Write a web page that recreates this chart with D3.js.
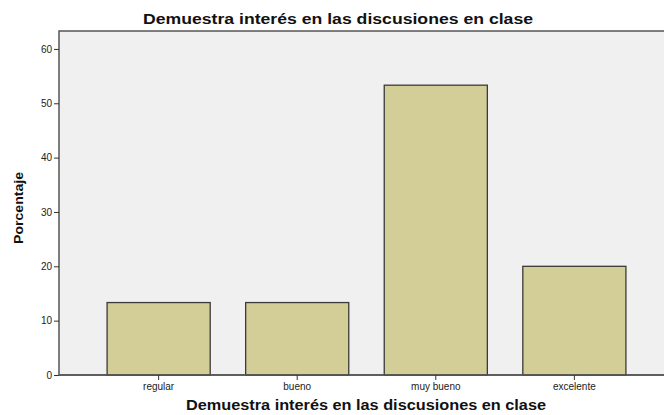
<!DOCTYPE html>
<html><head><meta charset="utf-8">
<script src="https://cdn.jsdelivr.net/npm/d3@7"></script>
<style>body{margin:0;background:#fff;}svg{display:block;font-family:"Liberation Sans",Arial,sans-serif;}</style>
</head><body>
<svg id="c" width="664" height="415"></svg>
<script>
const categories = ["regular", "bueno", "muy bueno", "excelente"];
const values = [13.33, 13.33, 53.33, 20.0];
const yTicks = [0, 10, 20, 30, 40, 50, 60];
const title = "Demuestra interés en las discusiones en clase";
const xTitle = "Demuestra interés en las discusiones en clase";
const yTitle = "Porcentaje";

const svg = d3.select("#c");
const L = 59, T = 31, R = 674, B = 375;
const x = d3.scaleBand().domain(categories).range([L, R]).paddingInner(0.256).paddingOuter(0.347);
const y = d3.scaleLinear().domain([0, 63.3]).range([B, T]);

svg.append("rect").attr("x", L).attr("y", T).attr("width", R - L).attr("height", B - T)
  .attr("fill", "#f0f0f0").attr("stroke", "#555").attr("stroke-width", 1.5);

svg.selectAll("rect.bar").data(values).enter().append("rect").attr("class", "bar")
  .attr("x", (d, i) => x(categories[i]))
  .attr("y", d => y(d))
  .attr("width", x.bandwidth())
  .attr("height", d => B - y(d))
  .attr("fill", "#d3ce98").attr("stroke", "#3a3a3a").attr("stroke-width", 1.3);

const ya = svg.append("g").attr("transform", `translate(${L},0)`)
  .call(d3.axisLeft(y).tickValues(yTicks).tickSize(5).tickPadding(2).tickFormat(d3.format("d")));
ya.select(".domain").remove();
ya.selectAll("line").attr("stroke", "#333");
ya.selectAll("text").attr("font-size", 10).attr("fill", "#222").attr("font-family", "Liberation Sans, Arial, sans-serif");

const xa = svg.append("g").attr("transform", `translate(0,${B})`)
  .call(d3.axisBottom(x).tickSize(5).tickPadding(3));
xa.select(".domain").attr("stroke", "#555").attr("stroke-width", 1.5).attr("d", `M${L},0H664`);
xa.selectAll("line").attr("stroke", "#333");
xa.selectAll("text").attr("font-size", 10).attr("fill", "#222").attr("font-family", "Liberation Sans, Arial, sans-serif");

svg.append("text").attr("x", 338).attr("y", 24).attr("text-anchor", "middle")
  .attr("font-size", 14.5).attr("font-weight", "bold").attr("fill", "#111")
  .attr("textLength", 390).attr("lengthAdjust", "spacingAndGlyphs").text(title);
svg.append("text").attr("x", 366).attr("y", 410).attr("text-anchor", "middle")
  .attr("font-size", 14).attr("font-weight", "bold").attr("fill", "#111")
  .attr("textLength", 360).attr("lengthAdjust", "spacingAndGlyphs").text(xTitle);
svg.append("text").attr("transform", "translate(23,208) rotate(-90)").attr("text-anchor", "middle")
  .attr("font-size", 13).attr("font-weight", "bold").attr("fill", "#111")
  .attr("textLength", 72).attr("lengthAdjust", "spacingAndGlyphs").text(yTitle);
</script>
</body></html>
